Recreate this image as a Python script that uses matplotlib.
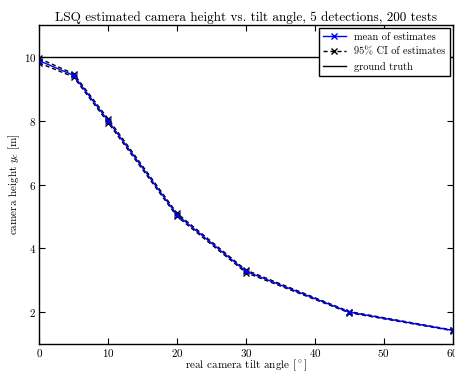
import numpy as np
import matplotlib
matplotlib.use("Agg")
import matplotlib.pyplot as plt

plt.rcParams['font.family'] = ['cmr10', 'DejaVu Serif']
plt.rcParams['mathtext.fontset'] = 'cm'
plt.rcParams['axes.formatter.use_mathtext'] = True
plt.rcParams['axes.unicode_minus'] = False

tilt = [0, 5, 10, 20, 30, 45, 60]
mean_h = [9.88, 9.42, 8.00, 5.05, 3.28, 2.00, 1.43]
ci_low = [9.81, 9.37, 7.94, 5.00, 3.24, 1.98, 1.42]
ci_high = [9.95, 9.47, 8.06, 5.10, 3.32, 2.02, 1.44]
truth = 10

fig = plt.figure(figsize=(4.55, 3.72), dpi=100)
ax = fig.add_axes([0.086, 0.075, 0.909, 0.858])

ax.plot(tilt, ci_low, 'kx--', lw=1, ms=5, mew=1, dashes=(3, 2), label='95% CI of estimates')
ax.plot(tilt, ci_high, 'kx--', lw=1, ms=5, mew=1, dashes=(3, 2))
ax.plot(tilt, mean_h, 'bx-', lw=1, ms=5, mew=1, label='mean of estimates')
ax.axhline(truth, color='k', lw=1, label='ground truth')

ax.set_xlim(0, 60)
ax.set_ylim(1, 11)
ax.set_xticks([0, 10, 20, 30, 40, 50, 60])
ax.set_yticks([2, 4, 6, 8, 10])
ax.tick_params(direction='in', top=True, right=True, labelsize=8, length=4, pad=2)
for s in ax.spines.values():
    s.set_linewidth(1)

ax.set_title('LSQ estimated camera height vs. tilt angle, 5 detections, 200 tests', fontsize=9.5, pad=3)
ax.set_xlabel(r'real camera tilt angle [$^\circ$]', fontsize=8, labelpad=-1)
ax.set_ylabel('camera height $y_c$ [m]', fontsize=8, labelpad=1)

h, l = ax.get_legend_handles_labels()
leg = ax.legend([h[1], h[0], h[2]], [l[1], l[0], l[2]], loc='upper right', fontsize=7.5,
                fancybox=False, framealpha=1, edgecolor='k', borderaxespad=0.3,
                handlelength=2.2)
leg.get_frame().set_linewidth(1)

fig.savefig('out.png', dpi=100)
